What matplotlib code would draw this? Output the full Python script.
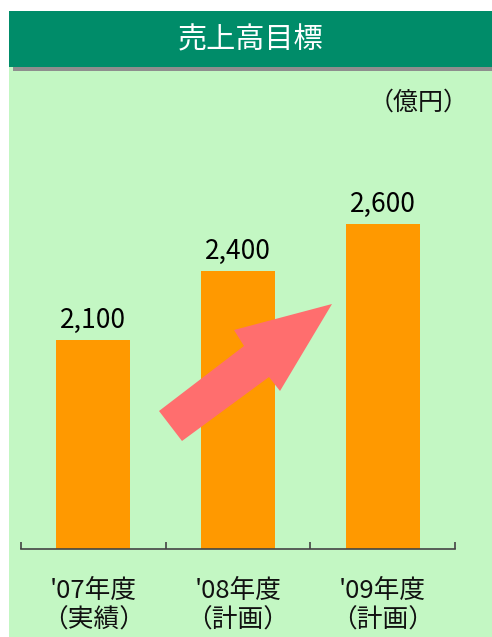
import matplotlib
matplotlib.use("Agg")
import matplotlib.pyplot as plt
from matplotlib.patches import Rectangle, Polygon

plt.rcParams['font.family'] = ['Noto Sans CJK JP', 'DejaVu Sans']

# data
title = "売上高目標"
unit = "（億円）"
categories = ["'07年度\n（実績）", "'08年度\n（計画）", "'09年度\n（計画）"]
values = [2100, 2400, 2600]
value_labels = ["2,100", "2,400", "2,600"]

W, H = 492, 637
fig = plt.figure(figsize=(W / 100, H / 100), dpi=100, facecolor='white')


def px(x, y):
    # pixel position -> figure fraction
    return x / W, 1 - y / H


# background panels
fig.patches.append(Rectangle(px(9, H), (W - 9) / W, (H - 67) / H,
                             transform=fig.transFigure, facecolor='#c3f7c3', edgecolor='none', zorder=0))
fig.patches.append(Rectangle(px(9, 67), (W - 9) / W, 56 / H,
                             transform=fig.transFigure, facecolor='#008c69', edgecolor='none', zorder=1))
fig.patches.append(Rectangle(px(13, 71), (W - 13) / W, 4 / H,
                             transform=fig.transFigure, facecolor='#8e8e8e', edgecolor='none', zorder=1))

fig.text(*px(251, 40), title, color='white', fontsize=21, ha='center', va='center')
fig.text(*px(469, 103), unit, color='#111111', fontsize=18, ha='right', va='center')

ax = fig.add_axes([21 / W, 1 - 549 / H, (455 - 21) / W, (549 - 71) / H])
ax.set_zorder(3)
ax.set_facecolor('none')
x = range(len(values))
ax.bar(x, values, width=0.51, color='#ff9900', zorder=2)
ax.set_xlim(-0.5, 2.5)
ax.set_ylim(1200, 3260)

for i, (v, lab) in enumerate(zip(values, value_labels)):
    ax.annotate(lab, (i, v), xytext=(0, 8.5), textcoords='offset points',
                ha='center', va='baseline', fontsize=19, color='black')

for s in ['top', 'left', 'right']:
    ax.spines[s].set_visible(False)
ax.spines['bottom'].set_color('#444444')
ax.spines['bottom'].set_linewidth(1.2)
ax.set_yticks([])
ax.set_xticks([-0.5, 0.5, 1.5, 2.5])
ax.set_xticklabels([])
ax.tick_params(axis='x', direction='in', length=5, width=1.2, color='#444444')

for i, c in enumerate(categories):
    ax.text(i, -0.06, c, transform=ax.get_xaxis_transform(), ha='center', va='top',
            fontsize=18.5, linespacing=1.2, color='#111111')

# growth arrow
arrow_px = [(159, 411), (244, 346), (234, 330), (332, 304), (280, 391), (269, 377), (182, 441)]
fig.patches.append(Polygon([px(a, b) for a, b in arrow_px], closed=True,
                           transform=fig.transFigure, facecolor='#ff6e6e', edgecolor='none', zorder=5))

fig.savefig("out.png", dpi=100, facecolor='white')
